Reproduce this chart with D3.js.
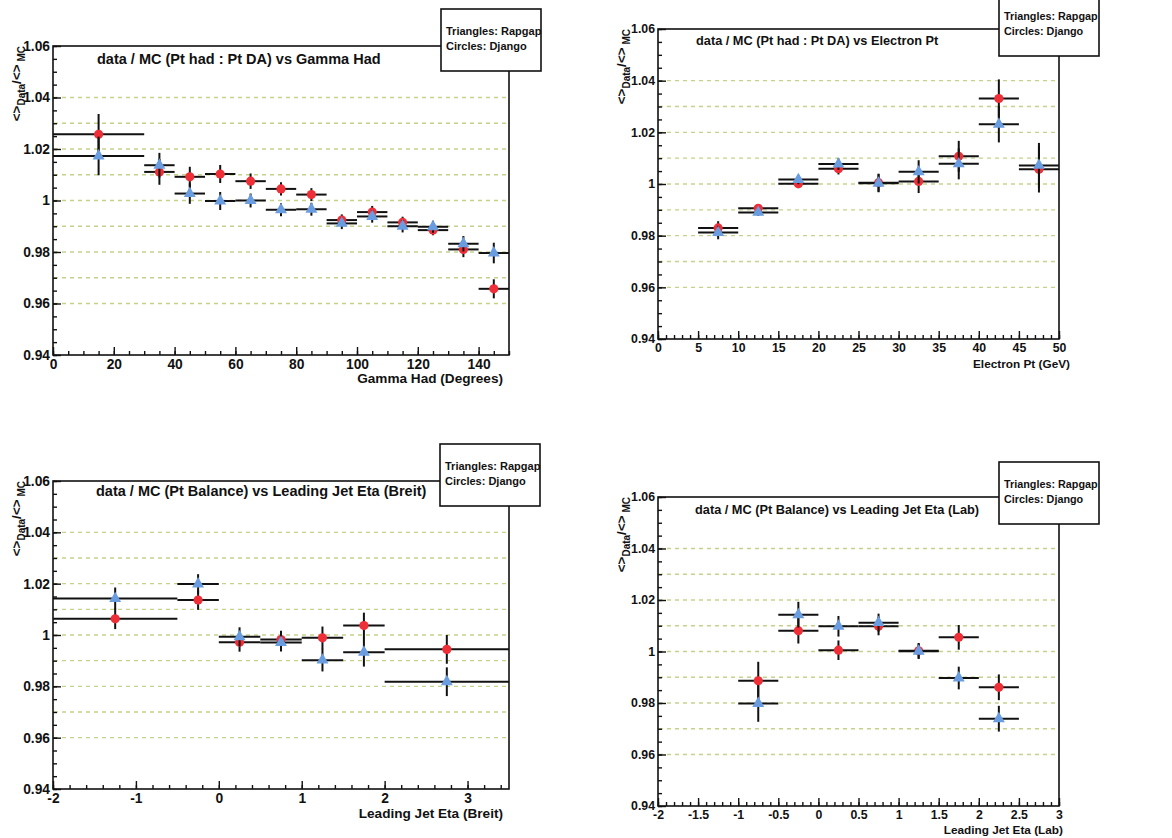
<!DOCTYPE html>
<html>
<head>
<meta charset="utf-8">
<script src="https://cdn.jsdelivr.net/npm/d3@7"></script>
<style>
  html, body { margin: 0; padding: 0; background: #fff; }
  svg { display: block; }
  text { font-family: "Liberation Sans", Arial, Helvetica, sans-serif; font-weight: bold; fill: #111; }
</style>
</head>
<body>
<svg id="chart" width="1172" height="838"></svg>
<script>
// ---- shared axis values -------------------------------------------------
const yTickValues = [0.94, 0.96, 0.98, 1.00, 1.02, 1.04, 1.06];
const yTickLabels = ["0.94", "0.96", "0.98", "1", "1.02", "1.04", "1.06"];
const guideLevels = [0.96, 0.97, 0.98, 0.99, 1.00, 1.01, 1.02, 1.03, 1.04];
const legendLines = ["Triangles: Rapgap", "Circles: Django"];

// ---- gamma_had (degrees) ------------------------------------------------
const gammaEdges      = [0, 30, 40, 50, 60, 70, 80, 90, 100, 110, 120, 130, 140, 150];
const gammaDjango     = [1.0257, 1.0111, 1.0092, 1.0103, 1.0075, 1.0045, 1.0023, 0.9924, 0.9955, 0.9915, 0.9885, 0.9810, 0.9657];
const gammaDjangoErr  = [0.0079, 0.0050, 0.0039, 0.0035, 0.0030, 0.0026, 0.0025, 0.0022, 0.0024, 0.0022, 0.0020, 0.0030, 0.0037];
const gammaRapgap     = [1.0173, 1.0137, 1.0027, 0.9998, 1.0000, 0.9964, 0.9966, 0.9911, 0.9938, 0.9900, 0.9898, 0.9832, 0.9796];
const gammaRapgapErr  = [0.0075, 0.0048, 0.0040, 0.0035, 0.0027, 0.0025, 0.0025, 0.0022, 0.0024, 0.0024, 0.0023, 0.0030, 0.0040];
const gammaTicks      = [0, 20, 40, 60, 80, 100, 120, 140];
const gammaTickLabels = ["0", "20", "40", "60", "80", "100", "120", "140"];

// ---- electron pt (GeV) --------------------------------------------------
const ptEdges      = [5, 10, 15, 20, 25, 30, 35, 40, 45, 50];
const ptDjango     = [0.9830, 0.9906, 1.0001, 1.0059, 1.0005, 1.0010, 1.0107, 1.0331, 1.0057];
const ptDjangoErr  = [0.0026, 0.0013, 0.0017, 0.0022, 0.0035, 0.0045, 0.0060, 0.0074, 0.0090];
const ptRapgap     = [0.9812, 0.9890, 1.0017, 1.0077, 1.0003, 1.0047, 1.0078, 1.0231, 1.0072];
const ptRapgapErr  = [0.0026, 0.0013, 0.0018, 0.0022, 0.0035, 0.0045, 0.0060, 0.0070, 0.0087];
const ptTicks      = [0, 5, 10, 15, 20, 25, 30, 35, 40, 45, 50];
const ptTickLabels = ["0", "5", "10", "15", "20", "25", "30", "35", "40", "45", "50"];

// ---- leading jet eta, Breit frame ---------------------------------------
const breitEdges      = [-2, -0.5, 0, 0.5, 1, 1.5, 2, 3.5];
const breitDjango     = [1.0063, 1.0136, 0.9972, 0.9982, 0.9989, 1.0037, 0.9944];
const breitDjangoErr  = [0.0040, 0.0038, 0.0037, 0.0035, 0.0044, 0.0050, 0.0056];
const breitRapgap     = [1.0142, 1.0199, 0.9993, 0.9971, 0.9902, 0.9933, 0.9818];
const breitRapgapErr  = [0.0043, 0.0038, 0.0037, 0.0035, 0.0044, 0.0056, 0.0056];
const breitTicks      = [-2, -1, 0, 1, 2, 3];
const breitTickLabels = ["-2", "-1", "0", "1", "2", "3"];

// ---- leading jet eta, lab frame -----------------------------------------
const labEdges      = [-1, -0.5, 0, 0.5, 1, 1.5, 2, 2.5];
const labDjango     = [0.9886, 1.0081, 1.0005, 1.0098, 1.0003, 1.0055, 0.9861];
const labDjangoErr  = [0.0074, 0.0050, 0.0038, 0.0035, 0.0030, 0.0048, 0.0050];
const labRapgap     = [0.9798, 1.0143, 1.0098, 1.0112, 1.0001, 0.9897, 0.9739];
const labRapgapErr  = [0.0071, 0.0050, 0.0040, 0.0035, 0.0030, 0.0044, 0.0050];
const labTicks      = [-2, -1.5, -1, -0.5, 0, 0.5, 1, 1.5, 2, 2.5, 3];
const labTickLabels = ["-2", "-1.5", "-1", "-0.5", "0", "0.5", "1", "1.5", "2", "2.5", "3"];

// ---- panel layout: left column pads are wider, so their text is larger --
const wideFonts   = { title: 14.5, axis: 13.6, tick: 13.8, legend: 11 };
const narrowFonts = { title: 12.75, axis: 11.8, tick: 12.3, legend: 10.8 };

const panels = [
  { title: "data / MC (Pt had : Pt DA) vs Gamma Had", xTitle: "Gamma Had (Degrees)",
    edges: gammaEdges, django: gammaDjango, djangoErr: gammaDjangoErr, rapgap: gammaRapgap, rapgapErr: gammaRapgapErr,
    xDomain: [0, 150], ticks: gammaTicks, tickLabels: gammaTickLabels, minorStep: 5, fonts: wideFonts,
    box: { l: 53, t: 46, r: 509, b: 355 }, titlePos: [97, 64], xTitleDx: -6, xTitleDy: 28,
    legend: { x: 441, y: 9 } },
  { title: "data / MC (Pt had : Pt DA) vs Electron Pt", xTitle: "Electron Pt (GeV)",
    edges: ptEdges, django: ptDjango, djangoErr: ptDjangoErr, rapgap: ptRapgap, rapgapErr: ptRapgapErr,
    xDomain: [0, 50], ticks: ptTicks, tickLabels: ptTickLabels, minorStep: 1, fonts: narrowFonts,
    box: { l: 658, t: 29, r: 1059, b: 339 }, titlePos: [696, 45], xTitleDx: 11, xTitleDy: 29,
    legend: { x: 999, y: -6 } },
  { title: "data / MC (Pt Balance) vs Leading Jet Eta (Breit)", xTitle: "Leading Jet Eta (Breit)",
    edges: breitEdges, django: breitDjango, djangoErr: breitDjangoErr, rapgap: breitRapgap, rapgapErr: breitRapgapErr,
    xDomain: [-2, 3.5], ticks: breitTicks, tickLabels: breitTickLabels, minorStep: 0.2, fonts: wideFonts,
    box: { l: 53, t: 481, r: 509, b: 789 }, titlePos: [96, 496], xTitleDx: -6, xTitleDy: 29,
    legend: { x: 440, y: 444 } },
  { title: "data / MC (Pt Balance) vs Leading Jet Eta (Lab)", xTitle: "Leading Jet Eta (Lab)",
    edges: labEdges, django: labDjango, djangoErr: labDjangoErr, rapgap: labRapgap, rapgapErr: labRapgapErr,
    xDomain: [-2, 3], ticks: labTicks, tickLabels: labTickLabels, minorStep: 0.1, fonts: narrowFonts,
    box: { l: 658, t: 497, r: 1059, b: 806 }, titlePos: [695, 514], xTitleDx: 4, xTitleDy: 28,
    legend: { x: 999, y: 462 } }
];

const djangoColor = "#ee2f37";
const rapgapColor = "#6a9de0";
const guideColor  = "#c3d48a";

const svg = d3.select("#chart");
svg.append("rect").attr("width", 1172).attr("height", 838).attr("fill", "#fff");

panels.forEach(p => {
  const g = svg.append("g");
  const { l, t, r, b } = p.box;
  const f = p.fonts;

  const x = d3.scaleLinear().domain(p.xDomain).range([l, r]);
  const y = d3.scaleLinear().domain([0.94, 1.06]).range([b, t]);

  // dashed reference levels
  g.append("g").selectAll("line").data(guideLevels).join("line")
    .attr("x1", l + 1).attr("x2", r - 1)
    .attr("y1", d => y(d)).attr("y2", d => y(d))
    .attr("stroke", guideColor).attr("stroke-width", 1.3)
    .attr("stroke-dasharray", "4,4");

  // frame
  g.append("rect")
    .attr("x", l).attr("y", t).attr("width", r - l).attr("height", b - t)
    .attr("fill", "none").attr("stroke", "#111").attr("stroke-width", 1.6);

  const styleTicks = a => a.selectAll("line").attr("stroke", "#111").attr("stroke-width", 1.4);
  const styleLabels = a => a.selectAll("text").attr("font-size", f.tick).attr("fill", "#111")
    .attr("font-family", "'Liberation Sans', Arial, sans-serif").attr("font-weight", "bold");

  // x axis: minor then labelled major ticks, all pointing inward
  const xMinor = d3.range(p.xDomain[0], p.xDomain[1] + 1e-9, p.minorStep);
  g.append("g").attr("transform", `translate(0,${b})`)
    .call(d3.axisBottom(x).tickValues(xMinor).tickSize(-4).tickFormat(""))
    .call(a => a.select(".domain").remove())
    .call(styleTicks);
  g.append("g").attr("transform", `translate(0,${b})`)
    .call(d3.axisBottom(x).tickValues(p.ticks).tickSize(-8).tickPadding(4)
      .tickFormat((d, i) => p.tickLabels[i]))
    .call(a => a.select(".domain").remove())
    .call(styleTicks).call(styleLabels);

  // y axis
  const yMinor = d3.range(0, 25).map(i => 0.94 + i * 0.005);
  g.append("g").attr("transform", `translate(${l},0)`)
    .call(d3.axisLeft(y).tickValues(yMinor).tickSize(-4).tickFormat(""))
    .call(a => a.select(".domain").remove())
    .call(styleTicks);
  g.append("g").attr("transform", `translate(${l},0)`)
    .call(d3.axisLeft(y).tickValues(yTickValues).tickSize(-8).tickPadding(3)
      .tickFormat((d, i) => yTickLabels[i]))
    .call(a => a.select(".domain").remove())
    .call(styleTicks).call(styleLabels);

  // axis titles
  g.append("text")
    .attr("x", r + p.xTitleDx).attr("y", b + p.xTitleDy)
    .attr("text-anchor", "end").attr("font-size", f.axis)
    .text(p.xTitle);

  const yt = g.append("text")
    .attr("transform", `translate(${l - 32},${t}) rotate(-90)`)
    .attr("text-anchor", "end").attr("font-size", 13.5);
  yt.append("tspan").text("<>");
  yt.append("tspan").attr("font-size", 10).attr("dy", 4).text("Data");
  yt.append("tspan").attr("dy", -4).text("/<>");
  yt.append("tspan").attr("font-size", 10).attr("dy", 4).text(" MC");

  // plot title
  g.append("text").attr("x", p.titlePos[0]).attr("y", p.titlePos[1])
    .attr("font-size", f.title).text(p.title);

  // one series: horizontal bin-width bars, vertical error bars, markers
  function drawSeries(values, errs, kind) {
    const rows = values.map((v, i) => ({
      lo: p.edges[i], hi: p.edges[i + 1], c: (p.edges[i] + p.edges[i + 1]) / 2, v, e: errs[i]
    }));
    const sg = g.append("g");
    sg.selectAll("line.h").data(rows).join("line").attr("class", "h")
      .attr("x1", d => x(d.lo)).attr("x2", d => x(d.hi))
      .attr("y1", d => y(d.v)).attr("y2", d => y(d.v))
      .attr("stroke", "#111").attr("stroke-width", 2);
    sg.selectAll("line.v").data(rows).join("line").attr("class", "v")
      .attr("x1", d => x(d.c)).attr("x2", d => x(d.c))
      .attr("y1", d => y(d.v - d.e)).attr("y2", d => y(d.v + d.e))
      .attr("stroke", "#111").attr("stroke-width", 2);
    if (kind === "circle") {
      sg.selectAll("circle").data(rows).join("circle")
        .attr("cx", d => x(d.c)).attr("cy", d => y(d.v)).attr("r", 4.6)
        .attr("fill", djangoColor);
    } else {
      const tri = d3.symbol().type(d3.symbolTriangle).size(62);
      sg.selectAll("path").data(rows).join("path")
        .attr("transform", d => `translate(${x(d.c)},${y(d.v)})`)
        .attr("d", tri).attr("fill", rapgapColor);
    }
  }
  drawSeries(p.django, p.djangoErr, "circle");
  drawSeries(p.rapgap, p.rapgapErr, "triangle");

  // legend box
  const lg = g.append("g").attr("transform", `translate(${p.legend.x},${p.legend.y})`);
  lg.append("rect").attr("width", 100).attr("height", 62)
    .attr("fill", "#fff").attr("stroke", "#111").attr("stroke-width", 1.6);
  lg.selectAll("text").data(legendLines).join("text")
    .attr("x", 5).attr("y", (d, i) => 26 + i * 14.5)
    .attr("font-size", f.legend).text(d => d);
});
</script>
</body>
</html>
